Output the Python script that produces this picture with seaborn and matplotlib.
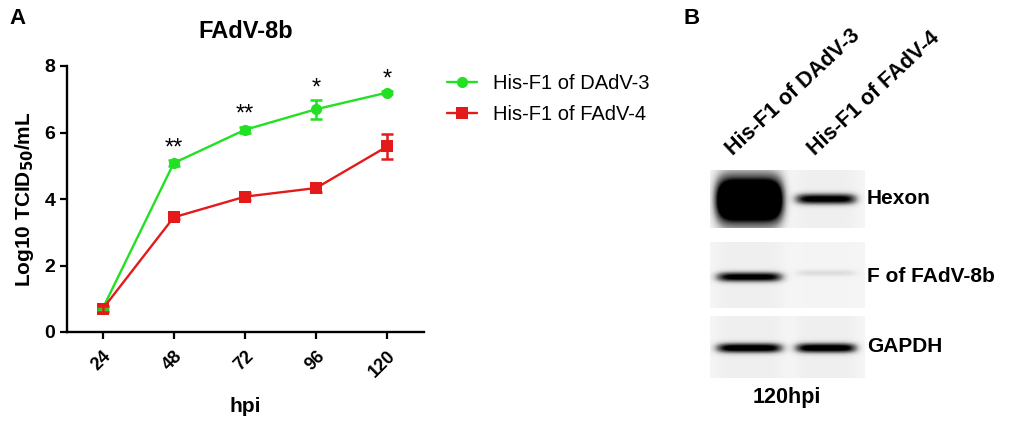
import numpy as np
import pandas as pd
import matplotlib
matplotlib.use("Agg")
import matplotlib.pyplot as plt
import seaborn as sns

# === datos del panel A ===
hpi = [24, 48, 72, 96, 120]
dadv3_mean = [0.70, 5.08, 6.08, 6.70, 7.20]
dadv3_err = [0.05, 0.10, 0.10, 0.28, 0.05]
fadv4_mean = [0.69, 3.45, 4.07, 4.33, 5.58]
fadv4_err = [0.08, 0.06, 0.10, 0.12, 0.37]
groups = ["His-F1 of DAdV-3", "His-F1 of FAdV-4"]
stars = ["", "**", "**", "*", "*"]

# === datos del panel B (western blot) ===
blot_proteins = ["Hexon", "F of FAdV-8b", "GAPDH"]
blot_lanes = groups
band_strength = [[1.8, 0.95], [0.95, 0.14], [1.0, 1.0]]

colors = {groups[0]: "#22e022", groups[1]: "#e41a1a"}

sns.set_style("ticks")
plt.rcParams['font.family'] = ['Liberation Sans', 'DejaVu Sans']
plt.rcParams['text.color'] = 'black'
plt.rcParams['axes.labelcolor'] = 'black'
plt.rcParams['xtick.color'] = 'black'
plt.rcParams['ytick.color'] = 'black'

W, H = 1013, 426
fig = plt.figure(figsize=(W / 100, H / 100), dpi=100)

def fig_box(x0, y0, x1, y1):
    # pixeles (arriba-izquierda) -> fracciones de figura
    return [x0 / W, 1 - y1 / H, (x1 - x0) / W, (y1 - y0) / H]

# === Panel A ===
ax = fig.add_axes(fig_box(67, 66, 424, 332))
df = pd.DataFrame({
    "hpi": hpi * 2,
    "titer": dadv3_mean + fadv4_mean,
    "group": [groups[0]] * 5 + [groups[1]] * 5,
})
sns.lineplot(data=df, x="hpi", y="titer", hue="group", style="group",
             palette=colors, markers={groups[0]: "o", groups[1]: "s"},
             dashes=False, markersize=8, markeredgewidth=0, linewidth=1.7,
             ax=ax, legend=True)
for mean, err, g in [(dadv3_mean, dadv3_err, groups[0]), (fadv4_mean, fadv4_err, groups[1])]:
    ax.errorbar(hpi, mean, yerr=err, fmt="none", ecolor=colors[g],
                elinewidth=1.8, capsize=4, capthick=1.8)

for x, s, m, e in zip(hpi, stars, dadv3_mean, dadv3_err):
    if s:
        ax.text(x, m + e + 0.35, s, ha="center", va="center", fontsize=17)

ax.set_xlim(12, 132.4)
ax.set_ylim(0, 8)
ax.set_xticks(hpi)
ax.set_xticklabels([str(h) for h in hpi], rotation=45, ha="right",
                   rotation_mode="anchor", fontweight="bold", fontsize=13)
ax.set_yticks([0, 2, 4, 6, 8])
ax.set_yticklabels(["0", "2", "4", "6", "8"], fontweight="bold", fontsize=14)
ax.tick_params(width=1.6, length=5, color="black")
ax.tick_params(axis="x", pad=6)
for sp in ["left", "bottom"]:
    ax.spines[sp].set_linewidth(1.7)
    ax.spines[sp].set_color("black")
sns.despine(ax=ax)
ax.set_xlabel("hpi", fontweight="bold", fontsize=15, labelpad=12)
ax.set_ylabel(r"Log10 TCID$_{\mathbf{50}}$/mL", fontweight="bold", fontsize=15, labelpad=6)
ax.set_title("FAdV-8b", fontweight="bold", fontsize=17, pad=20)

handles, labels = ax.get_legend_handles_labels()
ax.legend(handles, labels, loc="center left", bbox_to_anchor=(429 / W, 1 - 99 / H),
          bbox_transform=fig.transFigure, frameon=False, fontsize=14.5,
          handlelength=1.5, labelspacing=0.6, handletextpad=0.8)

fig.text(9 / W, 1 - 18 / H, "A", fontweight="bold", fontsize=16, va="center")

# === Panel B: blot ===
fig.text(683 / W, 1 - 18 / H, "B", fontweight="bold", fontsize=16, va="center")

box_rows = [(170, 228), (242, 308), (316, 378)]
band_centre = [[30, 29], [35, 31], [32, 32]]
band_half = [[22, 5.5], [5, 3.5], [5, 5]]
lane_x = [(6, 73), (85, 147)]
bw = 155

for i, prot in enumerate(blot_proteins):
    y0, y1 = box_rows[i]
    bh = y1 - y0
    yy, xx = np.mgrid[0:bh, 0:bw] + 0.5
    img = np.full((bh, bw), 0.08)
    for j in range(len(blot_lanes)):
        xa, xb = lane_x[j]
        xc, hw = (xa + xb) / 2, (xb - xa) / 2
        horiz = np.exp(-np.abs((xx - xc) / hw) ** 6)
        vert = np.exp(-np.abs((yy - band_centre[i][j]) / band_half[i][j]) ** 2.2)
        img += band_strength[i][j] * horiz * vert
        # ligero barrido en el carril
        img += 0.05 * band_strength[i][j] * horiz
    img = np.clip(img, 0, 1)
    bax = fig.add_axes(fig_box(710, y0, 710 + bw, y1))
    bax.imshow(img, cmap="Greys", vmin=0, vmax=1, aspect="auto",
               interpolation="bilinear")
    bax.set_axis_off()
    fig.text(867 / W, 1 - (y0 + band_centre[i][0] - 1) / H, prot,
             fontweight="bold", fontsize=15, va="center", ha="left")

for j, lab in enumerate(blot_lanes):
    xa = [733, 815][j]
    fig.text(xa / W, 1 - 156 / H, lab, rotation=43, rotation_mode="anchor",
             ha="left", va="baseline", fontweight="bold", fontsize=15.5)

fig.text(787 / W, 1 - 398 / H, "120hpi", fontweight="bold", fontsize=15.5,
         ha="center", va="center")

fig.savefig("out.png", dpi=100)
